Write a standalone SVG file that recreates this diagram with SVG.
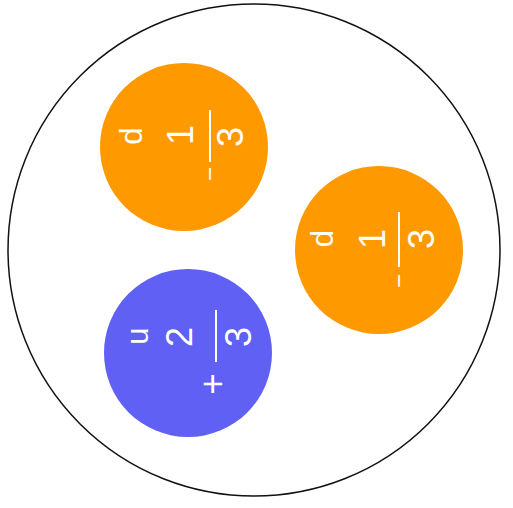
<svg xmlns="http://www.w3.org/2000/svg" width="513" height="508" viewBox="0 0 513 508">
  <style>
    .lbl { font-family: "Liberation Sans", Arial, sans-serif; fill: #ffffff; text-anchor: middle; }
    .let { font-size: 31px; }
    .dig { font-size: 36px; }
    .neg { font-size: 24px; }
    .bar { stroke: #ffffff; stroke-width: 2; }
    .orange { fill: #ff9900; }
    .blue { fill: #6060f4; }
  </style>
  <rect x="0" y="0" width="513" height="508" fill="#ffffff"/>
  <g id="nucleon">
    <circle cx="254" cy="250" r="246" fill="#ffffff" stroke="#111111" stroke-width="1.5"/>
  </g>
  <g id="quark-d1">
    <circle class="orange" cx="184" cy="147" r="84"/>
    <g transform="translate(184,147) rotate(-90)">
      <text class="lbl let" x="11" y="-42">d</text>
      <text class="lbl dig" x="12" y="9">1</text>
      <line class="bar" x1="-15" y1="26" x2="37" y2="26"/>
      <text class="lbl neg" x="-27" y="33.5">−</text>
      <text class="lbl dig" x="10" y="59">3</text>
    </g>
  </g>
  <g id="quark-d2">
    <circle class="orange" cx="379" cy="250" r="84"/>
    <g transform="translate(379,250) rotate(-90)">
      <text class="lbl let" x="11.5" y="-46">d</text>
      <text class="lbl dig" x="11" y="6">1</text>
      <line class="bar" x1="-17" y1="20" x2="38" y2="20"/>
      <text class="lbl neg" x="-31" y="27.5">−</text>
      <text class="lbl dig" x="11" y="55">3</text>
    </g>
  </g>
  <g id="quark-u">
    <circle class="blue" cx="188" cy="353" r="84"/>
    <g transform="translate(188,353) rotate(-90)">
      <text class="lbl let" x="17" y="-40">u</text>
      <text class="lbl dig" x="16" y="4">2</text>
      <line class="bar" x1="-9" y1="28" x2="43" y2="28"/>
      <text class="lbl" style="font-size:37px" x="-31" y="37">+</text>
      <text class="lbl dig" x="16" y="63">3</text>
    </g>
  </g>
  <g id="connectors"/>
</svg>
